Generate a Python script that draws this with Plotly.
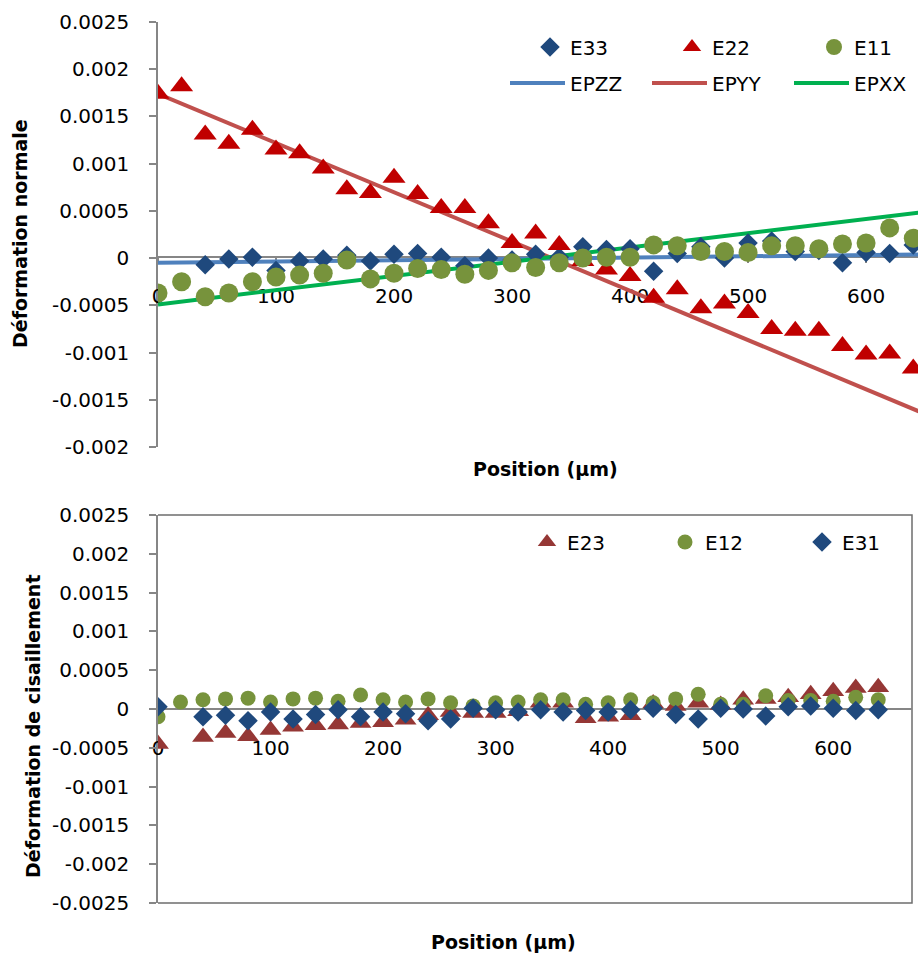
import plotly.graph_objects as go

# Positions along the scan (µm)
POS = [0, 20, 40, 60, 80, 100, 120, 140, 160, 180, 200, 220, 240, 260, 280, 300,
       320, 340, 360, 380, 400, 420, 440, 460, 480, 500, 520, 540, 560, 580, 600,
       620, 640]

# Normal strains (measured)
E33 = [None, None, -0.00007, -0.00001, 0.00001, -0.00013, -0.00003, -0.00001, 0.00003,
       -0.00003, 0.00004, 0.00005, 0.00001, -0.00008, 0.0, -0.00002, 0.00004, 0.00001,
       0.00012, 0.00009, 0.0001, -0.00014, 0.00005, 0.00012, 0.0, 0.00016, 0.00018,
       0.00007, 0.00008, -0.00005, 0.00006, 0.00005, 0.00014]
E22 = [0.00174, 0.00182, 0.00131, 0.00121, 0.00136, 0.00115, 0.00111, 0.00095, 0.00073,
       0.00069, 0.00085, 0.00068, 0.00053, 0.00053, 0.00037, 0.00016, 0.00026, 0.00014,
       -0.00003, -0.00012, -0.00019, -0.00042, -0.00033, -0.00053, -0.00048, -0.00058,
       -0.00075, -0.00077, -0.00077, -0.00093, -0.00102, -0.00101, -0.00117]
E11 = [-0.00037, -0.00025, -0.00041, -0.00037, -0.00025, -0.0002, -0.00018, -0.00016,
       -0.00002, -0.00022, -0.00016, -0.00011, -0.00012, -0.00017, -0.00013, -0.00005,
       -0.0001, -0.00005, 0.0, 0.00001, 0.00001, 0.00014, 0.00013, 0.00007, 0.00007,
       0.00006, 0.00013, 0.00013, 0.0001, 0.00015, 0.00016, 0.00032, 0.00021]

# Normal strains (model lines)
LINE_POS = [0, 650]
EPZZ = [-0.00005, 0.00004]
EPYY = [0.00174, -0.00165]
EPXX = [-0.00049, 0.00049]

# Shear strains (measured)
E23 = [-0.00045, None, -0.00036, -0.00031, -0.00035, -0.00027, -0.00023, -0.00021,
       -0.0002, -0.00018, -0.00017, -0.00014, -0.00008, -0.00004, -0.00005, -0.00005,
       -0.00003, 0.00008, 0.00008, -0.00012, -0.0001, -0.00008, 0.00007, 0.00004,
       0.00008, 0.00005, 0.00012, 0.00013, 0.00015, 0.00019, 0.00023, 0.00027, 0.00028]
E12 = [-0.0001, 0.00009, 0.00012, 0.00013, 0.00014, 0.00009, 0.00013, 0.00014, 0.0001,
       0.00018, 0.00012, 0.00009, 0.00013, 0.00008, 0.00004, 0.00008, 0.00009, 0.00012,
       0.00012, 0.00006, 0.00008, 0.00012, 0.00008, 0.00013, 0.00019, 0.00006, 0.00006,
       0.00017, 0.00011, 0.00011, 0.0001, 0.00015, 0.00012]
E31 = [0.00003, None, -0.0001, -0.00008, -0.00015, -0.00004, -0.00013, -0.00007,
       -0.00001, -0.0001, -0.00004, -0.00006, -0.00015, -0.00013, 0.00001, -0.00001,
       -0.00004, -0.00001, -0.00004, -0.00002, -0.00004, -0.00001, 0.00001, -0.00007,
       -0.00013, 0.00001, 0.0, -0.00009, 0.00003, 0.00004, 0.00001, -0.00002, -0.00001]

# Tick labels
X_TICKS = [0, 100, 200, 300, 400, 500, 600]
X_TICKTEXT = ["0", "100", "200", "300", "400", "500", "600"]
Y1_TICKS = [0.0025, 0.002, 0.0015, 0.001, 0.0005, 0, -0.0005, -0.001, -0.0015, -0.002]
Y1_TICKTEXT = ["0.0025", "0.002", "0.0015", "0.001", "0.0005", "0", "-0.0005",
               "-0.001", "-0.0015", "-0.002"]
Y2_TICKS = [0.0025, 0.002, 0.0015, 0.001, 0.0005, 0, -0.0005, -0.001, -0.0015,
            -0.002, -0.0025]
Y2_TICKTEXT = ["0.0025", "0.002", "0.0015", "0.001", "0.0005", "0", "-0.0005",
               "-0.001", "-0.0015", "-0.002", "-0.0025"]

FONT = "DejaVu Sans"
W, H = 918, 958
ML, MR, MT, MB = 158, 0, 22, 55
PW, PH = W - ML - MR, H - MT - MB


def px(x):
    return (x - ML) / PW


def py(y):
    return (H - MB - y) / PH


fig = go.Figure()

# model lines (top panel)
fig.add_trace(go.Scatter(x=LINE_POS, y=EPZZ, mode="lines", name="EPZZ",
                         line=dict(color="#4F81BD", width=4), legend="legend4"))
fig.add_trace(go.Scatter(x=LINE_POS, y=EPYY, mode="lines", name="EPYY",
                         line=dict(color="#C0504D", width=4), legend="legend5"))
fig.add_trace(go.Scatter(x=LINE_POS, y=EPXX, mode="lines", name="EPXX",
                         line=dict(color="#00B050", width=4), legend="legend6"))
# measured normal strains
fig.add_trace(go.Scatter(x=POS, y=E33, mode="markers", name="E33", legend="legend",
                         showlegend=True,
                         marker=dict(symbol="diamond", size=15, color="#1F497D")))
fig.add_trace(go.Scatter(x=POS, y=E22, mode="markers", name="E22", legend="legend2",
                         marker=dict(symbol="triangle-up", size=20, color="#C00000")))
fig.add_trace(go.Scatter(x=POS, y=E11, mode="markers", name="E11", legend="legend3",
                         marker=dict(symbol="circle", size=19, color="#77933C")))
# shear strains (bottom panel)
fig.add_trace(go.Scatter(x=POS, y=E23, mode="markers", name="E23", legend="legend7",
                         xaxis="x2", yaxis="y2",
                         marker=dict(symbol="triangle-up", size=19, color="#953735")))
fig.add_trace(go.Scatter(x=POS, y=E12, mode="markers", name="E12", legend="legend8",
                         xaxis="x2", yaxis="y2",
                         marker=dict(symbol="circle", size=15, color="#77933C")))
fig.add_trace(go.Scatter(x=POS, y=E31, mode="markers", name="E31", legend="legend9",
                         xaxis="x2", yaxis="y2",
                         marker=dict(symbol="diamond", size=15, color="#1F497D")))

AX = "#868686"
tickfont = dict(family=FONT, size=20, color="#000000")

top_dom = [py(447), 1.0]
bot_dom = [0.0, py(515)]

common_x = dict(showgrid=False, zeroline=False, showline=True, linecolor=AX, linewidth=1.5,
                ticks="outside", ticklen=5, tickcolor=AX, tickwidth=1.5,
                tickvals=X_TICKS, ticktext=X_TICKTEXT, tickfont=tickfont,
                anchor="free", layer="below traces", automargin=False,
                ticklabelstandoff=16)
common_y = dict(showgrid=False, zeroline=False, showline=True, linecolor=AX, linewidth=1.5,
                ticks="outside", ticklen=7, tickcolor=AX, tickwidth=1.5,
                tickfont=tickfont, layer="below traces", automargin=False,
                ticklabelstandoff=16)

legend_base = dict(orientation="h", xanchor="left", yanchor="middle",
                   bgcolor="rgba(0,0,0,0)", borderwidth=0,
                   font=dict(family=FONT, size=20, color="#000000"))


def leg(text_x, row_y, itemwidth=30):
    d = dict(legend_base)
    d.update(x=px(text_x - itemwidth - 10), y=py(row_y), itemwidth=itemwidth)
    return d


title_font = dict(family=FONT, size=19, color="#000000")

# plot-area frame of the shear panel (top, right and bottom sides)
frame = dict(type="path", xref="x2 domain", yref="y2 domain",
             path="M 0 1 L 1 1 L 1 0 L 0 0",
             line=dict(color="#6E6E6E", width=1.5), layer="below")

fig.update_layout(
    width=W, height=H,
    showlegend=True,
    margin=dict(l=ML, r=MR, t=MT, b=MB, pad=0),
    paper_bgcolor="white", plot_bgcolor="white",
    font=dict(family=FONT, color="#000000"),
    xaxis=dict(common_x, domain=[0, 1], range=[0, 644], position=py(257)),
    yaxis=dict(common_y, domain=top_dom, range=[-0.002, 0.0025],
               tickvals=Y1_TICKS, ticktext=Y1_TICKTEXT),
    xaxis2=dict(common_x, domain=[0, px(912)], range=[0, 670], position=py(709)),
    yaxis2=dict(common_y, domain=bot_dom, range=[-0.0025, 0.0025], anchor="x2",
                tickvals=Y2_TICKS, ticktext=Y2_TICKTEXT),
    legend=leg(570, 47), legend2=leg(712, 47), legend3=leg(854, 47),
    legend4=leg(570, 83, 55), legend5=leg(712, 83, 55), legend6=leg(854, 83, 55),
    legend7=leg(567, 542), legend8=leg(705, 542), legend9=leg(842, 542),
    shapes=[frame],
    annotations=[
        dict(text="<b>Déformation normale</b>", textangle=-90, x=px(20), y=py(234),
             xref="paper", yref="paper", showarrow=False, font=title_font,
             xanchor="center", yanchor="middle"),
        dict(text="<b>Position (µm)</b>", x=px(545), y=py(469),
             xref="paper", yref="paper", showarrow=False, font=title_font,
             xanchor="center", yanchor="middle"),
        dict(text="<b>Déformation de cisaillement</b>", textangle=-90, x=px(33),
             y=py(726), xref="paper", yref="paper", showarrow=False, font=title_font,
             xanchor="center", yanchor="middle"),
        dict(text="<b>Position (µm)</b>", x=px(503), y=py(942),
             xref="paper", yref="paper", showarrow=False, font=title_font,
             xanchor="center", yanchor="middle"),
    ],
)

fig.write_html("out.html")
